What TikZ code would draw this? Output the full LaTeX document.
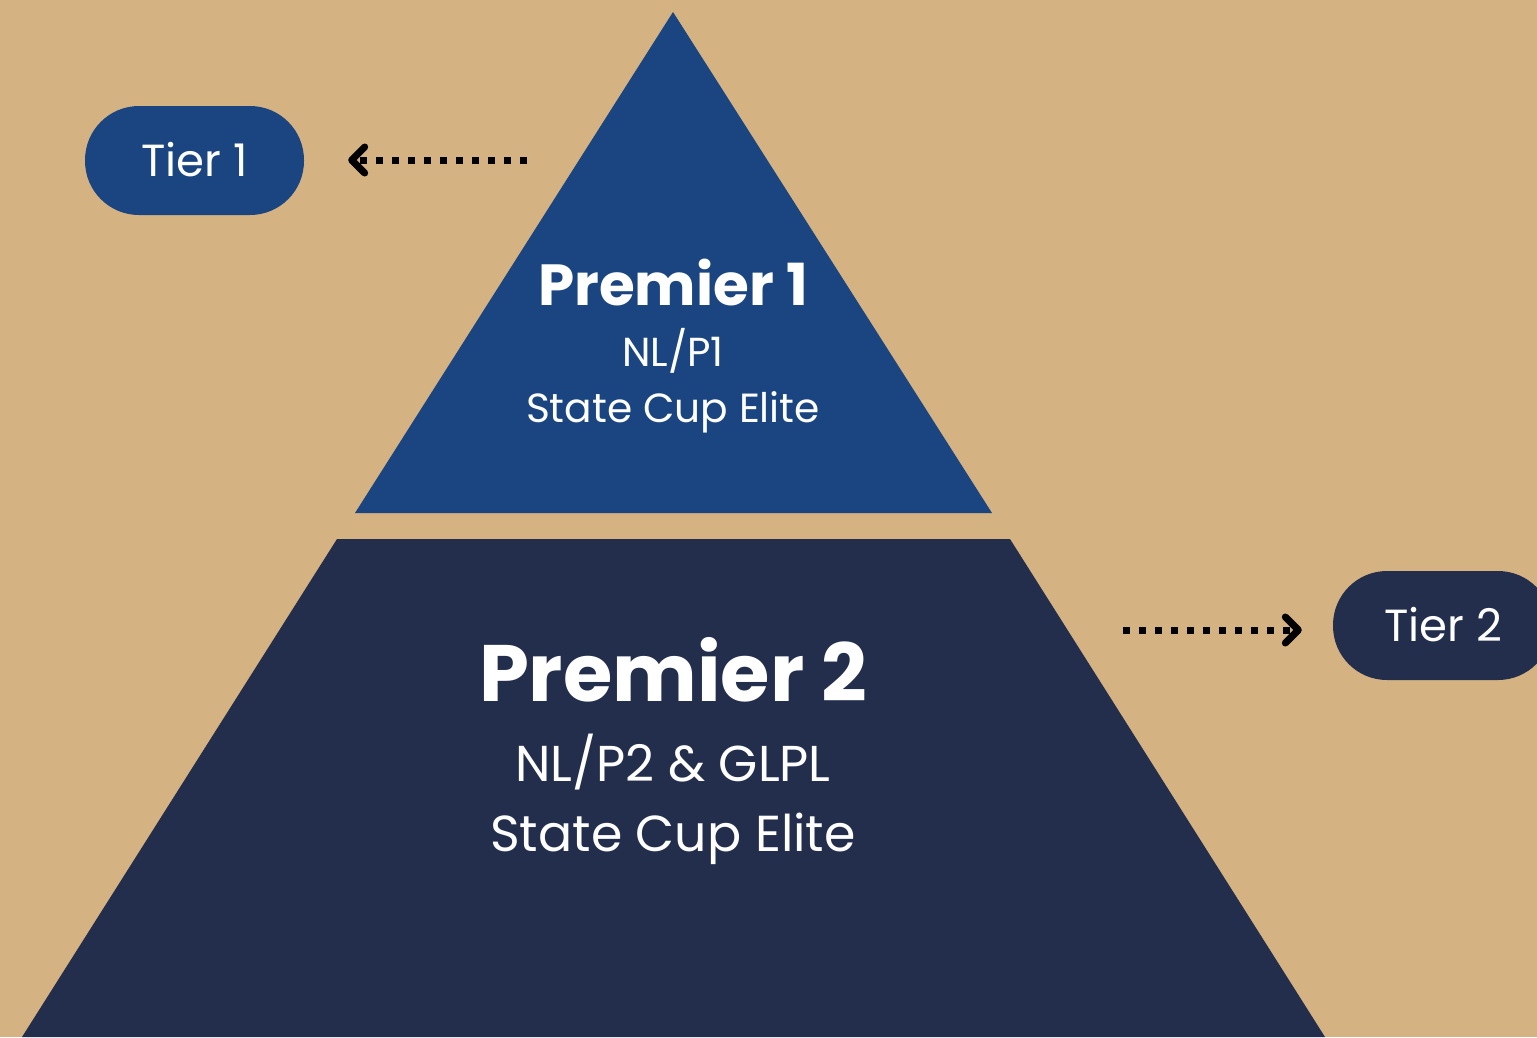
\documentclass[tikz,border=0pt]{standalone}
\usepackage{fontspec}
\setmainfont{Poppins}
\usetikzlibrary{arrows.meta}
\definecolor{bg}{HTML}{D4B282}
\definecolor{topblue}{HTML}{1B4580}
\definecolor{navy}{HTML}{222E4C}
\tikzset{
  pill/.style={rounded corners=54pt, minimum width=219pt, minimum height=109pt, inner sep=0pt, text=white},
  dotarrow/.style={line width=7pt, dash pattern=on 7pt off 9pt, black,
    -{Straight Barb[length=13pt,width=26pt,round]}},
  lbl/.style={text=white, anchor=base, inner sep=0pt},
}
\begin{document}
\begin{tikzpicture}[x=1pt,y=-1pt]
\fill[bg] (0,0) rectangle (1537,1037);
\useasboundingbox (0,0) rectangle (1537,1037);
% tiers
\fill[topblue] (673,12) -- (992,513) -- (355,513) -- cycle;
\fill[navy] (337,539) -- (1010,539) -- (1325,1037) -- (22,1037) -- cycle;
% pills
\node[pill, fill=topblue] (tier1) at (194.5,160.5) {};
\node[lbl, font=\fontsize{45}{50}\selectfont] (t1) at (194.5,176) {Tier 1};
\node[pill, fill=navy] (tier2) at (1442.5,625.5) {};
\node[lbl, font=\fontsize{45}{50}\selectfont] (t2) at (1443,641) {Tier 2};
% texts
\node[lbl, font=\fontsize{58}{60}\bfseries\selectfont] (p1) at (673,305) {Premier 1};
\node[lbl, font=\fontsize{40.5}{44}\selectfont] (p1a) at (673,366) {NL/P1};
\node[lbl, font=\fontsize{40.7}{44}\selectfont] (p1b) at (673,422) {State Cup Elite};
\node[lbl, font=\fontsize{80}{84}\bfseries\selectfont] (p2) at (673,701) {Premier 2};
\node[lbl, font=\fontsize{50.4}{54}\selectfont] (p2a) at (673,781) {NL/P2 \& GLPL};
\node[lbl, font=\fontsize{50.6}{54}\selectfont] (p2b) at (673,851) {State Cup Elite};
% arrows
\coordinate (a1) at (527,160);
\coordinate (a2) at (1123,630);
\draw[dotarrow, shorten >=44pt] (a1) -- (tier1.east |- a1);
\draw[dotarrow, shorten >=31pt] (a2) -- (tier2.west |- a2);
\end{tikzpicture}
\end{document}
